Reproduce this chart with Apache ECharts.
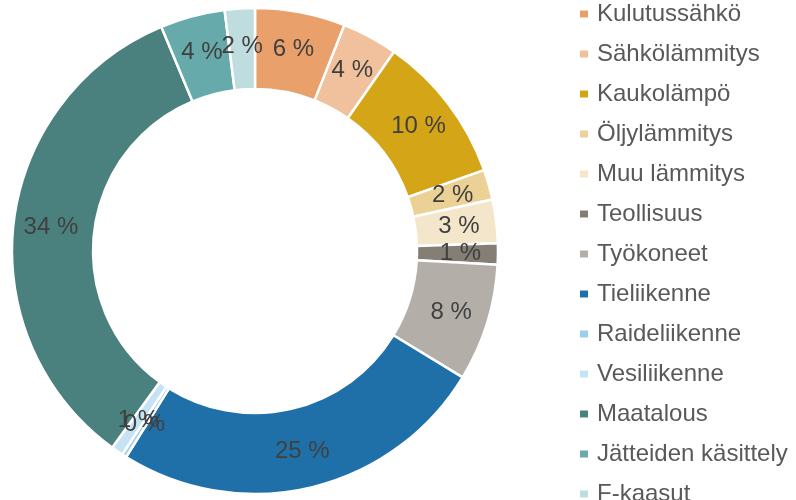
<!DOCTYPE html>
<html>
<head>
<meta charset="utf-8">
<script src="https://cdn.jsdelivr.net/npm/echarts@6/dist/echarts.min.js"></script>
<style>html,body{margin:0;padding:0;background:#fff;}#c{width:796px;height:500px;}</style>
</head>
<body>
<div id="c"></div>
<script>
var categories = ['Kulutussähkö','Sähkölämmitys','Kaukolämpö','Öljylämmitys','Muu lämmitys','Teollisuus','Työkoneet','Tieliikenne','Raideliikenne','Vesiliikenne','Maatalous','Jätteiden käsittely','F-kaasut'];
var shares = [6.0, 3.7, 9.9, 2.0, 2.9, 1.4, 7.8, 25.2, 0.3, 0.8, 33.7, 4.3, 2.0];
var colors = ['#E9A06B','#F1C09C','#D5A518','#EBD195','#F4E6CB','#857E74','#B3AFA8','#1F70A9','#9DCEEE','#C6E3F6','#4A807D','#67AAAB','#BFDDDF'];

var chart = echarts.init(document.getElementById('c'), null, {renderer:'canvas'});
chart.setOption({
  animation: false,
  color: colors,
  legend: {
    orient: 'vertical',
    left: 573,
    top: -5,
    height: 800,
    itemWidth: 10,
    itemHeight: 9,
    itemGap: 12,
    icon: 'rect',
    textStyle: {fontFamily: 'Liberation Sans, Arial, sans-serif', fontSize: 24, lineHeight: 28, color: '#595959', padding: [0,0,0,3]},
    data: categories
  },
  series: [{
    type: 'pie',
    center: [255, 251],
    radius: [162, 243],
    startAngle: 90,
    clockwise: true,
    avoidLabelOverlap: false,
    itemStyle: {borderColor: '#ffffff', borderWidth: 2.5},
    label: {
      show: true,
      position: 'inside',
      fontFamily: 'Liberation Sans, Arial, sans-serif',
      fontSize: 24,
      color: '#404040',
      formatter: function(p){ return Math.round(p.value) + ' %'; }
    },
    labelLayout: {hideOverlap: false},
    labelLine: {show: false},
    emphasis: {disabled: true},
    data: categories.map(function(n,i){ return {name: n, value: shares[i]}; })
  }]
});
</script>
</body>
</html>
